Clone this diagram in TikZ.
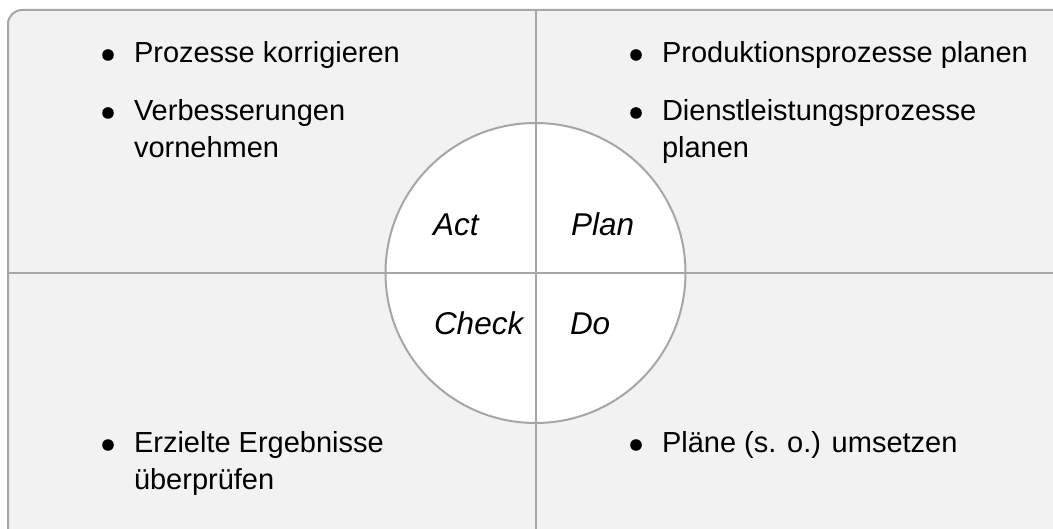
\documentclass[tikz,border=0pt]{standalone}
\usepackage{fontspec}
\setmainfont{Liberation Sans}
\usepackage{tikz}
\usetikzlibrary{positioning}
\definecolor{framegray}{HTML}{A6A6A6}
\definecolor{panelgray}{HTML}{F2F2F2}
\newcommand{\twolines}[2]{\begin{tabular}[t]{@{}l@{}}#1\\#2\end{tabular}}
\tikzset{
  entry/.style = {anchor = base west, inner sep = 0pt, font = \fontsize{29}{37}\selectfont},
  phase/.style = {anchor = base west, inner sep = 0pt, font = \fontsize{31.5}{37}\selectfont\itshape},
  dot/.style = {fill = black}
}

\begin{document}
\begin{tikzpicture}[x = 1pt, y = -1pt, line width = 2pt]
\useasboundingbox (0,0) rectangle (1053,529);
% outer panel, cut off at the right and the bottom
\draw[framegray, fill = panelgray, rounded corners = 14pt] (8,10) rectangle (1080,560);
\coordinate (top_mid) at (535.5,10);
\coordinate (bottom_mid) at (535.5,560);
\coordinate (left_mid) at (8,273);
\coordinate (right_mid) at (1080,273);
\node[circle, minimum size = 300pt, inner sep = 0pt, fill = white] (cycle) at (535.5,273) {};
\draw[framegray] (top_mid) -- (bottom_mid);
\draw[framegray] (left_mid) -- (right_mid);
\node[circle, minimum size = 300pt, inner sep = 0pt, draw = framegray] at (cycle.center) {};
% the four phases
\node[phase] (act) at (432,236) {Act};
\node[phase] (plan) at (570,236) {Plan};
\node[phase] (check) at (433,335) {Check};
\node[phase] (do) at (569,335) {Do};
% bullet points
\node[entry] (act_one) at (133,63) {Prozesse korrigieren};
\node[entry] (act_two) at (133,121) {\twolines{Verbesserungen}{vornehmen}};
\node[entry] (plan_one) at (661,63) {Produktionsprozesse planen};
\node[entry] (plan_two) at (661,121) {\twolines{Dienstleistungsprozesse}{planen}};
\node[entry] (check_one) at (133,453) {\twolines{Erzielte Ergebnisse}{überprüfen}};
\node[entry] (do_one) at (661,453) {Pläne (s. o.) umsetzen};
\foreach \item in {act_one, act_two, plan_one, plan_two, check_one, do_one}
  \fill[dot] ([xshift = -25pt, yshift = 8pt]\item.base west) circle (5.8pt);
\end{tikzpicture}
\end{document}
